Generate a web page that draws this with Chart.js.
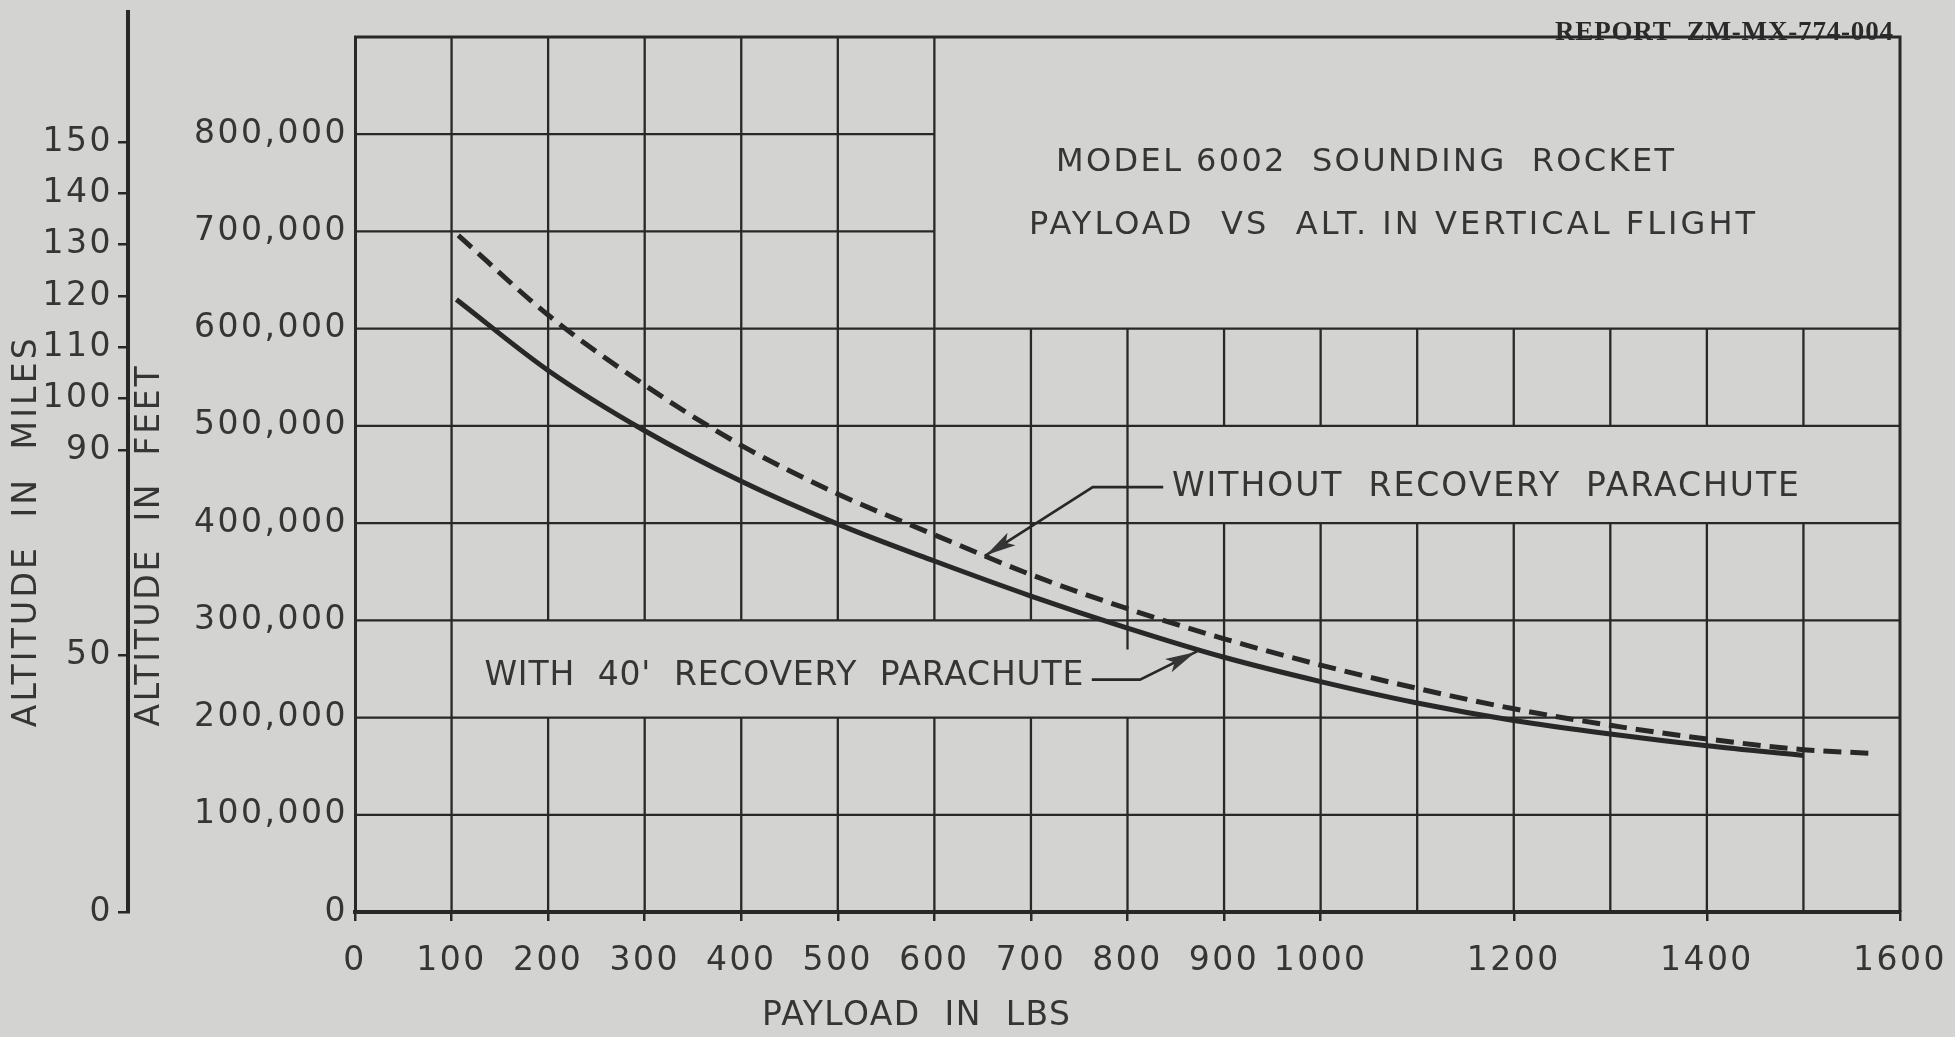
<!DOCTYPE html>
<html>
<head>
<meta charset="utf-8">
<title>Model 6002 Sounding Rocket - Payload vs Altitude</title>
<script src="https://cdn.jsdelivr.net/npm/chart.js@4.4.1/dist/chart.umd.min.js"></script>
<style>
  html, body { margin: 0; padding: 0; background: #d3d3d1; }
  #wrap { width: 1955px; height: 1037px; }
</style>
</head>
<body>
<div id="wrap"><canvas id="chart" width="1955" height="1037"></canvas></div>
<script>
// values (payload in lbs, altitude in feet)
const payloadWith = [105, 200, 300, 400, 500, 600, 700, 800, 900, 1000, 1100, 1200, 1300, 1400, 1500];
const altitudeWith = [630000, 557000, 495000, 443000, 399000, 361000, 325000, 292000, 262000, 237000, 215000, 197000, 183000, 171000, 161000];
const payloadWithout = [107, 200, 300, 400, 500, 600, 700, 800, 900, 1000, 1100, 1200, 1300, 1400, 1500, 1574];
const altitudeWithout = [696000, 614000, 542000, 480000, 430000, 388000, 347000, 312000, 281000, 254000, 230000, 209000, 192000, 178000, 167000, 163000];

const payloadTicks = [0, 100, 200, 300, 400, 500, 600, 700, 800, 900, 1000, 1200, 1400, 1600];
const feetTicks = [0, 100000, 200000, 300000, 400000, 500000, 600000, 700000, 800000];
const mileTicks = [0, 50, 90, 100, 110, 120, 130, 140, 150];
const FEET_PER_MILE = 5280;

const paper = "#d3d3d1";
const ink = "#282828";
const lettering = "#353535";
const font = "DejaVu Sans";

// grid on the sheet is left open where the lettering sits
const vGrid = [];
for (let p = 100; p <= 1500; p += 100) {
    let runs;
    if (p === 100) runs = [[0, 900000]];
    else if (p <= 600) runs = [[0, 200000], [300000, 900000]];
    else if (p === 700) runs = [[0, 200000], [300000, 600000]];
    else if (p === 800) runs = [[0, 200000], [270000, 600000]];
    else runs = [[0, 400000], [500000, 600000]];
    runs.forEach(([a, b]) => vGrid.push([p, a, b]));
}
const hGrid = [];
for (let a = 100000; a <= 800000; a += 100000) hGrid.push([a, 0, a <= 600000 ? 1600 : 600]);

const notes = [
    { text: "WITHOUT  RECOVERY  PARACHUTE", at: [846, 437000], width: 627, leader: [[837, 437000], [764, 437000], [652, 366000]] },
    { text: "WITH  40'  RECOVERY  PARACHUTE", at: [134, 242000], width: 599, leader: [[763, 239000], [813, 239000], [872, 268000]] }
];

function stretchText(ctx, text, x, y, width, align) {
    ctx.letterSpacing = "0px";
    const w0 = ctx.measureText(text).width;
    const sp = (width - w0) / Math.max(text.length - 1, 1);
    ctx.letterSpacing = sp + "px";
    let x0 = x;
    if (align === "center") x0 = x - width / 2;
    else if (align === "right") x0 = x - width;
    ctx.textAlign = "left";
    ctx.fillText(text, x0, y);
}

function leader(ctx, pts) {
    ctx.beginPath();
    pts.forEach(([px, py], i) => (i ? ctx.lineTo(px, py) : ctx.moveTo(px, py)));
    ctx.stroke();
    const a = pts[pts.length - 2], b = pts[pts.length - 1];
    const ang = Math.atan2(b[1] - a[1], b[0] - a[0]);
    const c = Math.cos(ang), s = Math.sin(ang);
    const tip = [b[0] - 2 * c, b[1] - 2 * s];
    ctx.beginPath();
    ctx.moveTo(tip[0], tip[1]);
    ctx.lineTo(tip[0] - 30 * c + 7.5 * s, tip[1] - 30 * s - 7.5 * c);
    ctx.lineTo(tip[0] - 23 * c, tip[1] - 23 * s);
    ctx.lineTo(tip[0] - 30 * c - 7.5 * s, tip[1] - 30 * s + 7.5 * c);
    ctx.closePath();
    ctx.fill();
}

const sheet = {
    id: "sheet",
    beforeUpdate(chart) { chart.ctx.letterSpacing = "2.5px"; },
    beforeDraw(chart) {
        const ctx = chart.ctx;
        ctx.save();
        ctx.fillStyle = paper;
        ctx.fillRect(0, 0, chart.width, chart.height);
        ctx.restore();
        ctx.letterSpacing = "2.5px";
    },
    beforeDatasetsDraw(chart) {
        const { ctx, scales: { x, y, miles } } = chart;
        ctx.save();
        ctx.letterSpacing = "0px";
        ctx.strokeStyle = ink;
        ctx.lineCap = "butt";
        ctx.lineWidth = 2.3;
        ctx.beginPath();
        vGrid.forEach(([p, a, b]) => {
            const px = x.getPixelForValue(p);
            ctx.moveTo(px, y.getPixelForValue(a));
            ctx.lineTo(px, y.getPixelForValue(b));
        });
        hGrid.forEach(([a, p0, p1]) => {
            const py = y.getPixelForValue(a);
            ctx.moveTo(x.getPixelForValue(p0), py);
            ctx.lineTo(x.getPixelForValue(p1), py);
        });
        ctx.stroke();
        // top and right edges of the sheet grid
        ctx.lineWidth = 3;
        ctx.beginPath();
        ctx.moveTo(x.getPixelForValue(0) - 1, y.getPixelForValue(900000));
        ctx.lineTo(x.getPixelForValue(1600), y.getPixelForValue(900000));
        ctx.lineTo(x.getPixelForValue(1600), y.getPixelForValue(0));
        ctx.stroke();
        // mile scale runs on above the grid
        ctx.lineWidth = 4;
        ctx.beginPath();
        ctx.moveTo(miles.right, 10);
        ctx.lineTo(miles.right, chart.chartArea.top + 2);
        ctx.stroke();
        ctx.restore();
    },
    afterDatasetsDraw(chart) {
        const { ctx, scales: { x, y, miles }, chartArea } = chart;
        const pt = ([p, a]) => [x.getPixelForValue(p), y.getPixelForValue(a)];
        ctx.save();
        ctx.fillStyle = lettering;
        ctx.strokeStyle = ink;
        ctx.textBaseline = "middle";

        ctx.font = `32px "${font}"`;
        stretchText(ctx, "MODEL 6002  SOUNDING  ROCKET", ...pt([1046, 771000]), 618, "center");
        stretchText(ctx, "PAYLOAD  VS  ALT. IN VERTICAL FLIGHT", ...pt([1074, 706000]), 726, "center");

        ctx.font = `33px "${font}"`;
        ctx.lineWidth = 2.6;
        notes.forEach((n) => {
            stretchText(ctx, n.text, ...pt(n.at), n.width, "left");
            leader(ctx, n.leader.map(pt));
        });

        // axis titles
        ctx.font = `33px "${font}"`;
        stretchText(ctx, "PAYLOAD  IN  LBS", x.getPixelForValue(581), chart.height - 21, 308, "center");
        ctx.save();
        ctx.translate(miles.left + 27, y.getPixelForValue(390000));
        ctx.rotate(-Math.PI / 2);
        stretchText(ctx, "ALTITUDE  IN  MILES", 0, 0, 389, "center");
        ctx.restore();
        ctx.save();
        ctx.translate(y.left + 22, y.getPixelForValue(376000));
        ctx.rotate(-Math.PI / 2);
        stretchText(ctx, "ALTITUDE  IN  FEET", 0, 0, 360, "center");
        ctx.restore();

        // report number, typed
        ctx.font = `bold 27px "Liberation Serif"`;
        ctx.fillStyle = "#2a2a2a";
        ctx.textBaseline = "alphabetic";
        stretchText(ctx, "REPORT  ZM-MX-774-004", chartArea.right - 7, chartArea.top + 3, 338, "right");
        ctx.restore();
    }
};

Chart.defaults.font.family = font;
Chart.defaults.color = lettering;

new Chart(document.getElementById("chart"), {
    type: "line",
    data: {
        datasets: [
            {
                label: "With 40' recovery parachute",
                data: payloadWith.map((p, i) => ({ x: p, y: altitudeWith[i] })),
                borderColor: ink,
                borderWidth: 5,
                pointRadius: 0,
                cubicInterpolationMode: "monotone",
                fill: false
            },
            {
                label: "Without recovery parachute",
                data: payloadWithout.map((p, i) => ({ x: p, y: altitudeWithout[i] })),
                borderColor: ink,
                borderWidth: 5,
                borderDash: [18, 9],
                pointRadius: 0,
                cubicInterpolationMode: "monotone",
                fill: false
            }
        ]
    },
    options: {
        responsive: false,
        animation: false,
        events: [],
        layout: { autoPadding: false, padding: { left: 0, top: 37, right: 55, bottom: 45 } },
        plugins: { legend: { display: false }, tooltip: { enabled: false } },
        scales: {
            x: {
                type: "linear", min: 0, max: 1600,
                afterBuildTicks: (s) => { s.ticks = payloadTicks.map((v) => ({ value: v })); },
                afterFit: (s) => { s.height = 80; s.paddingLeft = 0; s.paddingRight = 0; },
                grid: { drawOnChartArea: false, drawTicks: true, tickLength: 9, color: ink, lineWidth: 2.5 },
                border: { color: ink, width: 4 },
                ticks: { padding: 21, font: { size: 33 }, maxRotation: 0, autoSkip: false, callback: (v) => String(v) }
            },
            y: {
                type: "linear", position: "left", min: 0, max: 900000, weight: 0,
                afterBuildTicks: (s) => { s.ticks = feetTicks.map((v) => ({ value: v })); },
                afterFit: (s) => { s.width = 227; },
                grid: { drawOnChartArea: false, drawTicks: false },
                border: { color: ink, width: 3 },
                ticks: { padding: 7, font: { size: 33 }, autoSkip: false, callback: (v) => v.toLocaleString("en-US") }
            },
            miles: {
                type: "linear", position: "left", min: 0, max: 900000 / FEET_PER_MILE, weight: 1,
                afterBuildTicks: (s) => { s.ticks = mileTicks.map((v) => ({ value: v })); },
                afterFit: (s) => { s.width = 128; },
                grid: { drawOnChartArea: false, drawTicks: true, tickLength: 10, color: ink, lineWidth: 2.5 },
                border: { color: ink, width: 4 },
                ticks: { padding: 5, font: { size: 33 }, autoSkip: false, callback: (v) => String(v) }
            }
        }
    },
    plugins: [sheet]
});
</script>
</body>
</html>
